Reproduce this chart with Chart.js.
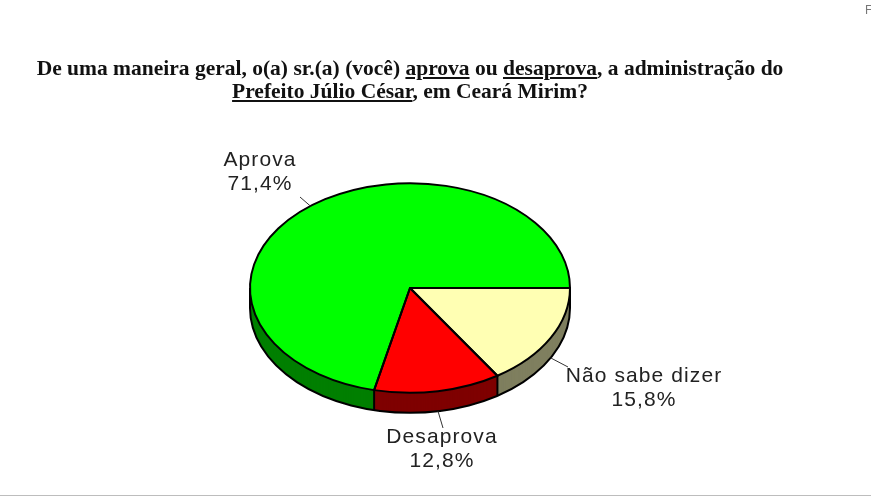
<!DOCTYPE html>
<html lang="pt">
<head>
<meta charset="utf-8">
<style>
html,body{margin:0;padding:0;background:#fff;width:871px;height:500px;overflow:hidden}
#wrap{position:relative;width:871px;height:500px}
canvas{position:absolute;left:0;top:0}
#title{position:absolute;left:0;top:57px;width:820px;text-align:center;font:bold 21.5px/23px "Liberation Serif",serif;color:#111}
#rule{position:absolute;left:0;top:495px;width:871px;height:1px;background:#bdbdbd}
#corner{position:absolute;left:865px;top:3px;font:12px "Liberation Sans",sans-serif;color:#777}
</style>
</head>
<body>
<div id="wrap">
<canvas id="c" width="871" height="500"></canvas>
<div id="title">De uma maneira geral, o(a) sr.(a) (você) <u>aprova</u> ou <u>desaprova</u>, a administração do<br><u>Prefeito Júlio César</u>, em Ceará Mirim?</div>
<div id="rule"></div>
<div id="corner">F</div>
</div>
<script src="https://cdn.jsdelivr.net/npm/chart.js@4/dist/chart.umd.min.js"></script>
<script>
const categories = ["Não sabe dizer", "Desaprova", "Aprova"];
const values = [15.8, 12.8, 71.4];
const topColors = ["#ffffb3", "#ff0000", "#00ff00"];
const sideColors = ["#7f7f5f", "#7f0000", "#007f00"];

const TILT = 0.655;
const DEPTH = 20;
// label block centre (x, first-line y) and where its leader line ends
const labelLayout = [
  {x: 644, y: 376, lx: 568, ly: 367, wall: true},
  {x: 442, y: 437, lx: 443, ly: 428, wall: true},
  {x: 260, y: 160, lx: 300, ly: 197, wall: false}
];

function tilt(ctx, cy) {
  ctx.translate(0, cy);
  ctx.scale(1, TILT);
  ctx.translate(0, -cy);
}

const tiltedPie = {
  id: "tiltedPie",
  beforeDatasetsDraw(chart) {
    const ctx = chart.ctx;
    const arcs = chart.getDatasetMeta(0).data;
    const {x: cx, y: cy, outerRadius: r} = arcs[0];
    // side wall: the same arc elements repeated downward in darker colours
    for (let d = DEPTH; d > 0; d--) {
      arcs.forEach((arc, i) => {
        const saved = arc.options;
        arc.options = {backgroundColor: sideColors[i], borderColor: sideColors[i], borderWidth: 0,
          borderAlign: "center", borderJoinStyle: "round", borderRadius: 0, spacing: 0, offset: 0,
          circular: true, borderDash: [], borderDashOffset: 0};
        ctx.save();
        ctx.translate(0, d);
        tilt(ctx, cy);
        arc.draw(ctx);
        ctx.restore();
        arc.options = saved;
      });
    }
    ctx.save();
    ctx.strokeStyle = "#000";
    ctx.lineWidth = 2;
    ctx.beginPath();
    ctx.ellipse(cx, cy + DEPTH, r, r * TILT, 0, 0, Math.PI);
    ctx.stroke();
    // vertical edges at the rim extremes and at every visible slice boundary
    const edges = [0, Math.PI];
    arcs.forEach(a => { const e = a.endAngle % (2 * Math.PI); if (e > 0 && e < Math.PI) edges.push(e); });
    edges.forEach(a => {
      const x = cx + r * Math.cos(a), y = cy + r * TILT * Math.sin(a);
      ctx.beginPath(); ctx.moveTo(x, y); ctx.lineTo(x, y + DEPTH); ctx.stroke();
    });
    ctx.restore();
    ctx.save();
    tilt(ctx, cy);
  },
  afterDatasetsDraw(chart) {
    const ctx = chart.ctx;
    ctx.restore();
    const arcs = chart.getDatasetMeta(0).data;
    ctx.save();
    ctx.strokeStyle = "#000";
    ctx.lineWidth = 2;
    ctx.lineJoin = "round";
    arcs.forEach(a => {
      ctx.beginPath();
      ctx.moveTo(a.x, a.y);
      ctx.ellipse(a.x, a.y, a.outerRadius, a.outerRadius * TILT, 0, a.startAngle, a.endAngle);
      ctx.closePath();
      ctx.stroke();
    });
    // leader lines and labels
    ctx.font = '21px "Liberation Sans", sans-serif';
    ctx.letterSpacing = "1.1px";
    ctx.textAlign = "center";
    ctx.textBaseline = "middle";
    arcs.forEach((a, i) => {
      const L = labelLayout[i];
      const m = (a.startAngle + a.endAngle) / 2;
      const ax = a.x + a.outerRadius * Math.cos(m);
      const ay = a.y + a.outerRadius * TILT * Math.sin(m) + (L.wall ? DEPTH : 0);
      ctx.strokeStyle = "#333";
      ctx.lineWidth = 1;
      ctx.beginPath(); ctx.moveTo(ax, ay); ctx.lineTo(L.lx, L.ly); ctx.stroke();
      ctx.fillStyle = "#222";
      ctx.fillText(categories[i], L.x, L.y);
      ctx.fillText(values[i].toFixed(1).replace(".", ",") + "%", L.x, L.y + 24);
    });
    ctx.restore();
  }
};

new Chart(document.getElementById("c"), {
  type: "pie",
  data: {
    labels: categories,
    datasets: [{data: values, backgroundColor: topColors, borderWidth: 0, clip: false}]
  },
  options: {
    responsive: false,
    animation: false,
    rotation: 90,
    layout: {padding: {left: 250, right: 301, top: 128, bottom: 52}},
    plugins: {legend: {display: false}, title: {display: false}, tooltip: {enabled: false}}
  },
  plugins: [tiltedPie]
});
</script>
</body>
</html>
